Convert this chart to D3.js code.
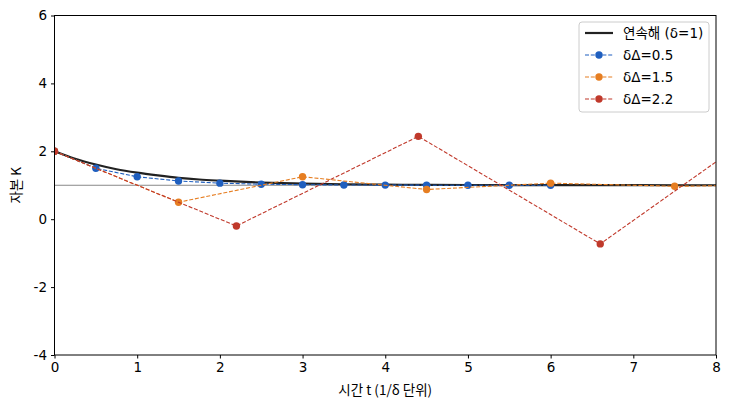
<!DOCTYPE html>
<html><head><meta charset="utf-8">
<script src="https://cdn.jsdelivr.net/npm/d3@7"></script>
<style>
body{margin:0;background:#fff;}
text{font-family:"DejaVu Sans","Noto Sans CJK KR",sans-serif;}
</style></head>
<body><svg id="c" width="730" height="410"></svg>
<script>
// continuous solution (δ=1)
const contT = [0,0.25,0.5,0.75,1,1.25,1.5,1.75,2,2.25,2.5,2.75,3,3.5,4,4.5,5,5.5,6,7,8];
const contK = [2.00,1.78,1.61,1.47,1.37,1.29,1.22,1.17,1.135,1.105,1.08,1.065,1.05,1.03,1.018,1.011,1.007,1.004,1.0025,1.001,1.0003];
// discrete series
const s05T = [0,0.5,1,1.5,2,2.5,3,3.5,4,4.5,5,5.5,6];
const s05K = [2.0,1.5,1.25,1.125,1.0625,1.031,1.016,1.008,1.004,1.002,1.001,1.0005,1.0002];
const s15T = [0,1.5,3,4.5,6,7.5,9];
const s15K = [2.0,0.5,1.25,0.875,1.0625,0.969,1.016];
const s22T = [0,2.2,4.4,6.6,8.8];
const s22K = [2.0,-0.2,2.44,-0.728,3.07];
const seriesNames = ["연속해 (δ=1)","δΔ=0.5","δΔ=1.5","δΔ=2.2"];
const seriesColors = ["#222222","#1f5fbf","#e67e22","#c0392b"];
const xTicks = [0,1,2,3,4,5,6,7,8];
const yTicks = [-4,-2,0,2,4,6];
const xLabel = "시간 t (1/δ 단위)";
const yLabel = "자본 K";

const svg = d3.select("#c");
const L=54.5,R=716,T=15.5,B=355;
const x = d3.scaleLinear().domain([0,8]).range([L,R]);
const y = d3.scaleLinear().domain([-4,6]).range([B,T]);

svg.append("clipPath").attr("id","clip").append("rect")
  .attr("x",L).attr("y",T).attr("width",R-L).attr("height",B-T);

const g = svg.append("g").attr("clip-path","url(#clip)");
// reference line at K=1
g.append("line").attr("x1",L).attr("x2",R).attr("y1",y(1)).attr("y2",y(1))
  .attr("stroke","#888").attr("stroke-width",1);

const line = d3.line().x(d=>x(d[0])).y(d=>y(d[1]));
const contData = contT.map((t,i)=>[t,contK[i]]);
g.append("path").datum(contData)
  .attr("d",d3.line().x(d=>x(d[0])).y(d=>y(d[1])).curve(d3.curveMonotoneX))
  .attr("fill","none").attr("stroke",seriesColors[0]).attr("stroke-width",2.2);

const disc = [[s05T,s05K],[s15T,s15K],[s22T,s22K]];
disc.forEach((s,k)=>{
  const data = s[0].map((t,i)=>[t,s[1][i]]);
  const col = seriesColors[k+1];
  g.append("path").datum(data).attr("d",line).attr("fill","none")
    .attr("stroke",col).attr("stroke-width",1.1).attr("stroke-dasharray","4,1.8");
  g.selectAll(null).data(data).enter().append("circle")
    .attr("cx",d=>x(d[0])).attr("cy",d=>y(d[1])).attr("r",3.7).attr("fill",col);
});

// frame
svg.append("rect").attr("x",L).attr("y",T).attr("width",R-L).attr("height",B-T)
  .attr("fill","none").attr("stroke","#000").attr("stroke-width",1);

// axes
const xa = svg.append("g").attr("transform",`translate(0,${B})`)
  .call(d3.axisBottom(x).tickValues(xTicks).tickFormat(d3.format("d")).tickSize(3.5).tickPadding(4));
const ya = svg.append("g").attr("transform",`translate(${L},0)`)
  .call(d3.axisLeft(y).tickValues(yTicks).tickFormat(d=>String(d)).tickSize(3.5).tickPadding(4));
[xa,ya].forEach(a=>{
  a.select(".domain").remove();
  a.selectAll("text").attr("font-size","13.5px").attr("fill","#000")
    .style("font-family",'"DejaVu Sans",sans-serif');
  a.selectAll("line").attr("stroke","#000");
});

svg.append("text").attr("x",(L+R)/2).attr("y",395).attr("text-anchor","middle")
  .attr("font-size","13.5px").style("font-family",'"Noto Sans CJK KR","DejaVu Sans",sans-serif').text(xLabel);
svg.append("text").attr("transform",`translate(21,${(T+B)/2}) rotate(-90)`).attr("text-anchor","middle")
  .attr("font-size","13.5px").style("font-family",'"Noto Sans CJK KR","DejaVu Sans",sans-serif').text(yLabel);

// legend
const lg = svg.append("g");
lg.append("rect").attr("x",579).attr("y",22).attr("width",130).attr("height",90).attr("rx",3)
  .attr("fill","#fff").attr("fill-opacity",0.8).attr("stroke","#ccc");
seriesNames.forEach((n,i)=>{
  const yy = 33 + i*22;
  lg.append("line").attr("x1",585).attr("x2",613).attr("y1",yy).attr("y2",yy)
    .attr("stroke",seriesColors[i]).attr("stroke-width",i===0?2.2:1.1)
    .attr("stroke-dasharray",i===0?null:"4,1.8");
  if(i>0) lg.append("circle").attr("cx",599).attr("cy",yy).attr("r",3.7).attr("fill",seriesColors[i]);
  lg.append("text").attr("x",623).attr("y",yy+5).attr("font-size","13.5px")
    .style("font-family",'"DejaVu Sans","Noto Sans CJK KR",sans-serif').text(n);
});
</script></body></html>
